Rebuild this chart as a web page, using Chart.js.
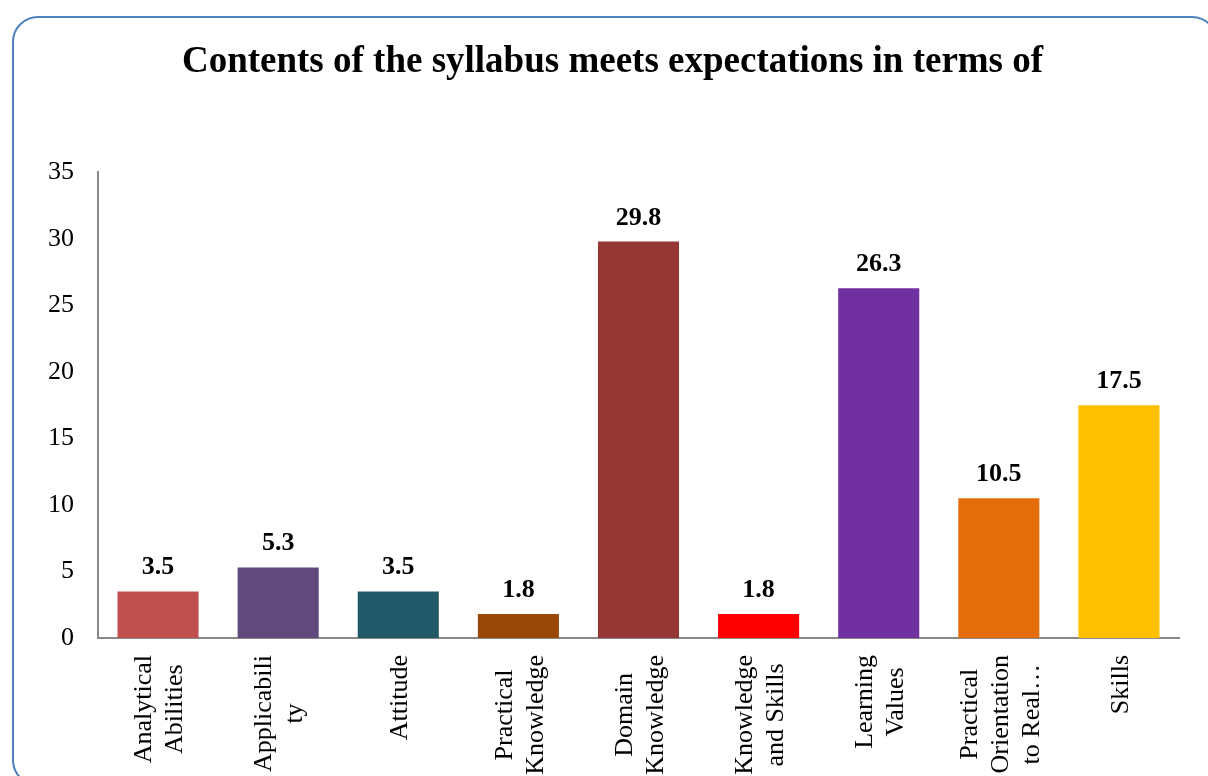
<!DOCTYPE html>
<html>
<head>
<meta charset="utf-8">
<script src="https://cdn.jsdelivr.net/npm/chart.js@4"></script>
<style>
  html, body { margin: 0; padding: 0; background: #fff; overflow: hidden; }
  #moldura {
    position: absolute; left: 12px; top: 16px; width: 1206px; height: 770px;
    border: 2px solid #4f81bd; border-radius: 26px; box-sizing: border-box;
  }
  #grafico { position: absolute; left: 0; top: 0; }
</style>
</head>
<body>
<div id="moldura"></div>
<canvas id="grafico" width="1208" height="776"></canvas>
<script>
const categorias = [
  ['Analytical', 'Abilities'],
  ['Applicabili', 'ty'],
  ['Attitude'],
  ['Practical', 'Knowledge'],
  ['Domain', 'Knowledge'],
  ['Knowledge', 'and Skills'],
  ['Learning', 'Values'],
  ['Practical', 'Orientation', 'to Real…'],
  ['Skills']
];
const valores = [3.5, 5.3, 3.5, 1.8, 29.8, 1.8, 26.3, 10.5, 17.5];
const cores = ['#c0504d', '#604a7b', '#215968', '#984807', '#953735', '#ff0000', '#7030a0', '#e46c0a', '#ffc000'];
const titulo = 'Contents of the syllabus meets expectations in terms of';

const fonte = '"Liberation Serif", "Times New Roman", serif';

// rotulos dos valores acima das barras
const rotulosValores = {
  id: 'rotulosValores',
  afterDatasetsDraw(chart) {
    const ctx = chart.ctx;
    const meta = chart.getDatasetMeta(0);
    ctx.save();
    ctx.font = `bold 26px ${fonte}`;
    ctx.fillStyle = '#000';
    ctx.textAlign = 'center';
    ctx.textBaseline = 'alphabetic';
    meta.data.forEach((barra, i) => {
      ctx.fillText(valores[i].toFixed(1), barra.x, barra.y - 17);
    });
    ctx.restore();
  }
};

// rotulos do eixo x girados, com linhas centralizadas entre si
const rotulosEixoX = {
  id: 'rotulosEixoX',
  afterDraw(chart) {
    const ctx = chart.ctx;
    const x = chart.scales.x;
    const alturaLinha = 31;
    ctx.save();
    ctx.font = `26px ${fonte}`;
    ctx.fillStyle = '#000';
    ctx.textAlign = 'center';
    ctx.textBaseline = 'middle';
    categorias.forEach((linhas, i) => {
      const px = x.getPixelForTick(i);
      const larguraMax = Math.max(...linhas.map((l) => ctx.measureText(l).width));
      ctx.save();
      ctx.translate(px, x.top + 17);
      ctx.rotate(-Math.PI / 2);
      linhas.forEach((linha, k) => {
        const dy = (k - (linhas.length - 1) / 2) * alturaLinha;
        ctx.fillText(linha, -larguraMax / 2, dy + 2);
      });
      ctx.restore();
    });
    ctx.restore();
  }
};

new Chart(document.getElementById('grafico'), {
  type: 'bar',
  data: {
    labels: categorias,
    datasets: [{
      data: valores,
      backgroundColor: cores,
      barPercentage: 0.675,
      categoryPercentage: 1
    }]
  },
  options: {
    responsive: false,
    animation: false,
    layout: { padding: { left: 46, right: 29, bottom: 138, top: 0 } },
    plugins: {
      legend: { display: false },
      tooltip: { enabled: false },
      title: {
        display: true,
        text: titulo,
        color: '#000',
        font: { family: fonte, size: 37, weight: 'bold' },
        padding: { top: 40, bottom: 88 }
      }
    },
    scales: {
      x: {
        grid: { display: false, drawTicks: false },
        border: { display: true, color: '#888888', width: 2 },
        ticks: { display: false }
      },
      y: {
        min: 0,
        max: 35,
        afterFit(escala) { escala.width = 52; },
        grid: { display: false, drawTicks: false },
        border: { display: true, color: '#888888', width: 2 },
        ticks: {
          stepSize: 5,
          padding: 24,
          color: '#000',
          font: { family: fonte, size: 26 }
        }
      }
    }
  },
  plugins: [rotulosValores, rotulosEixoX]
});
</script>
</body>
</html>
